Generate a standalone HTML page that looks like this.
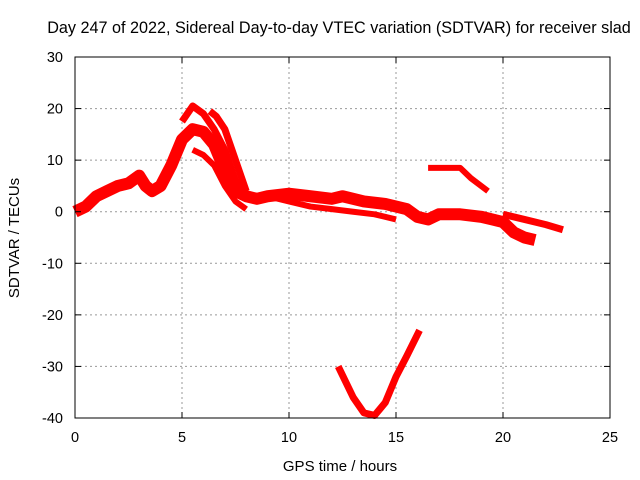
<!DOCTYPE html>
<html><head><meta charset="utf-8"><style>
body{margin:0;background:#fff;}
svg{display:block;font-family:"Liberation Sans",sans-serif;}
</style></head><body>
<svg id="chart" width="640" height="480">
<text x="339" y="33" text-anchor="middle" font-size="16.2">Day 247 of 2022, Sidereal Day-to-day VTEC variation (SDTVAR) for receiver slad</text>
<g id="grid"></g>
<g id="series"></g>
<g id="axes"></g>
<text x="340" y="471" text-anchor="middle" font-size="15">GPS time / hours</text>
<text transform="translate(19,238) rotate(-90)" text-anchor="middle" font-size="15">SDTVAR / TECUs</text>
</svg>
<script>
const xTicks=[0,5,10,15,20,25];
const yTicks=[30,20,10,0,-10,-20,-30,-40];
const trackA=[[0,0],[0.5,1],[1,3],[1.5,4],[2,5],[2.5,5.5],[3,7],[3.3,5],[3.6,4],[4,5],[4.5,9],[5,14],[5.5,16],[6,15.5],[6.5,13],[7,8],[7.5,4],[8,3],[8.5,2.5],[9,3],[10,3.5],[11,3],[12,2.5],[12.5,3],[13.5,2],[14.5,1.5],[15.5,0.5],[16,-1],[16.5,-1.5],[17,-0.5],[18,-0.5],[19,-1],[19.5,-1.5],[20,-2],[20.5,-4],[21,-5],[21.5,-5.5]];
const trackB=[[5,17.5],[5.5,20.5],[6,19],[6.5,16],[7,12],[7.5,6],[8,3],[9,3]];
const trackC=[[6.3,19.5],[6.6,18.5],[7,16],[7.5,10],[8,4]];
const trackD=[[5.5,12],[6,11],[6.5,9],[7,5],[7.5,2],[8,0.5]];
const trackE=[[9,3],[10,2],[11,1],[12,0.5],[13,0],[14,-0.5],[15,-1.5]];
const trackF=[[16.5,8.5],[17.5,8.5],[18,8.5],[18.5,6.5],[19.3,4]];
const trackG=[[20,-0.5],[21,-1.5],[22,-2.5],[22.8,-3.5]];
const trackH=[[12.3,-30],[13,-36],[13.5,-39],[14,-39.5],[14.5,-37],[15,-32],[15.5,-28],[16.1,-23]];
const tracks=[trackA,trackB,trackC,trackD,trackE,trackF,trackG,trackH];
const widths=[12,7,7,6,6,6,7,7];
const X0=75,X1=610,Y0=57,Y1=418;
const sx=h=>X0+(h-0)/(25-0)*(X1-X0);
const sy=v=>Y0+(30-v)/(30-(-40))*(Y1-Y0);
const NS="http://www.w3.org/2000/svg";
function mk(t,a,p){const e=document.createElementNS(NS,t);for(const k in a)e.setAttribute(k,a[k]);p.appendChild(e);return e;}
const grid=document.getElementById('grid'),axes=document.getElementById('axes'),ser=document.getElementById('series');
xTicks.forEach(t=>{
 const x=sx(t);
 if(t>0&&t<25){const g=mk('line',{x1:x,x2:x,y1:Y0,y2:Y1,stroke:'#999','stroke-dasharray':'2,3'},grid);
 
 }
 mk('line',{x1:x,x2:x,y1:Y1,y2:Y1-6,stroke:'#000'},axes);
 mk('line',{x1:x,x2:x,y1:Y0,y2:Y0+6,stroke:'#000'},axes);
 const l=mk('text',{x:x,y:Y1+24,'text-anchor':'middle','font-size':14.5},axes);l.textContent=t;
 
 
});
yTicks.forEach(t=>{
 const y=sy(t);
 if(t>-40&&t<30){const g=mk('line',{x1:X0,x2:X1,y1:y,y2:y,stroke:'#999','stroke-dasharray':'2,3'},grid);
 
 }
 mk('line',{x1:X0,x2:X0+6,y1:y,y2:y,stroke:'#000'},axes);
 mk('line',{x1:X1,x2:X1-6,y1:y,y2:y,stroke:'#000'},axes);
 const l=mk('text',{x:X0-12,y:y+5,'text-anchor':'end','font-size':14.5},axes);l.textContent=t;
 
 
});
const fr=mk('rect',{x:X0,y:Y0,width:X1-X0,height:Y1-Y0,fill:'none',stroke:'#000'},axes);


tracks.forEach((tr,i)=>{
 const p=mk('polyline',{points:tr.map(d=>sx(d[0])+','+sy(d[1])).join(' '),fill:'none',stroke:'#f00','stroke-width':widths[i],'stroke-linejoin':'round'},ser);
 
 
});
</script>
</body></html>
